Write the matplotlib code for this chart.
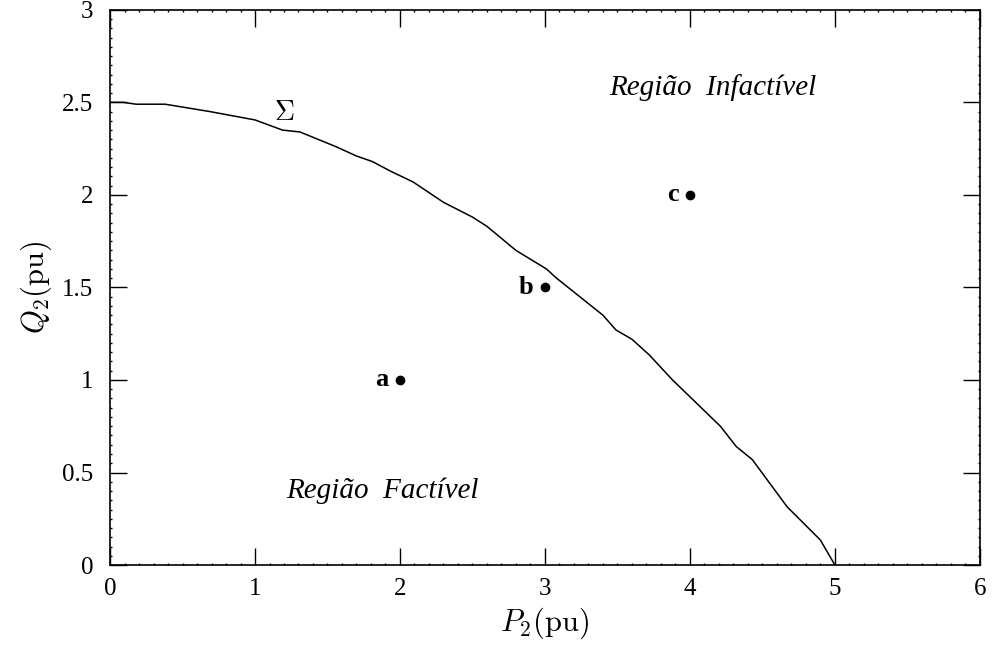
import matplotlib
matplotlib.use("Agg")
import matplotlib.pyplot as plt
from matplotlib.ticker import MultipleLocator

plt.rcParams["font.family"] = ["Liberation Serif", "DejaVu Serif"]
plt.rcParams["mathtext.fontset"] = "cm"

# boundary curve Sigma (P2, Q2)
p2 = [0.0, 0.09, 0.18, 0.38, 0.69, 1.0, 1.19, 1.31, 1.56, 1.70, 1.81, 1.93,
      2.09, 2.30, 2.50, 2.60, 2.80, 3.01, 3.08, 3.24, 3.40, 3.49, 3.60, 3.72,
      3.88, 4.21, 4.32, 4.43, 4.67, 4.90, 5.0]
q2 = [2.50, 2.50, 2.49, 2.49, 2.45, 2.405, 2.35, 2.34, 2.26, 2.21, 2.18, 2.13,
      2.07, 1.96, 1.88, 1.83, 1.70, 1.60, 1.55, 1.45, 1.35, 1.27, 1.22, 1.135,
      1.0, 0.75, 0.64, 0.57, 0.315, 0.135, 0.0]

# operating points
pt_names = ["a", "b", "c"]
pt_p = [2, 3, 4]
pt_q = [1, 1.5, 2]

fig = plt.figure(figsize=(9.93, 6.54), dpi=100)
ax = fig.add_axes([0.1108, 0.136, 0.876, 0.849])

ax.plot(p2, q2, color="black", lw=1.1)
ax.plot(pt_p, pt_q, "o", color="black", ms=6)
for name, x, y in zip(pt_names, pt_p, pt_q):
    ax.text(x - 0.08, y, name, fontsize=19, fontweight="bold",
            ha="right", va="center")

ax.text(1.2, 2.44, r"$\Sigma$", fontsize=20, ha="center", va="center")
ax.text(4.16, 2.58, "Região  Infactível", fontsize=21, style="italic",
        ha="center", va="center")
ax.text(1.88, 0.40, "Região  Factível", fontsize=21, style="italic",
        ha="center", va="center")

ax.set_xlim(0, 6)
ax.set_ylim(0, 3)
ax.xaxis.set_major_locator(MultipleLocator(1))
ax.xaxis.set_minor_locator(MultipleLocator(0.1))
ax.yaxis.set_major_locator(MultipleLocator(0.5))
ax.yaxis.set_minor_locator(MultipleLocator(0.05))
ax.set_yticks([0, 0.5, 1, 1.5, 2, 2.5, 3], ["0", "0.5", "1", "1.5", "2", "2.5", "3"])
ax.tick_params(which="both", direction="in", top=True, right=True,
               labelsize=18, width=1)
ax.tick_params(which="major", length=12)
ax.tick_params(axis="y", which="major", pad=12)
ax.tick_params(axis="x", which="major", pad=9)
ax.tick_params(which="minor", length=1.5)
for s in ax.spines.values():
    s.set_linewidth(1.2)

ax.set_xlabel(r"$P_2(\mathrm{pu})$", fontsize=22, labelpad=4)
ax.set_ylabel(r"$Q_2(\mathrm{pu})$", fontsize=22, labelpad=6)

fig.savefig("out.png", dpi=100)
